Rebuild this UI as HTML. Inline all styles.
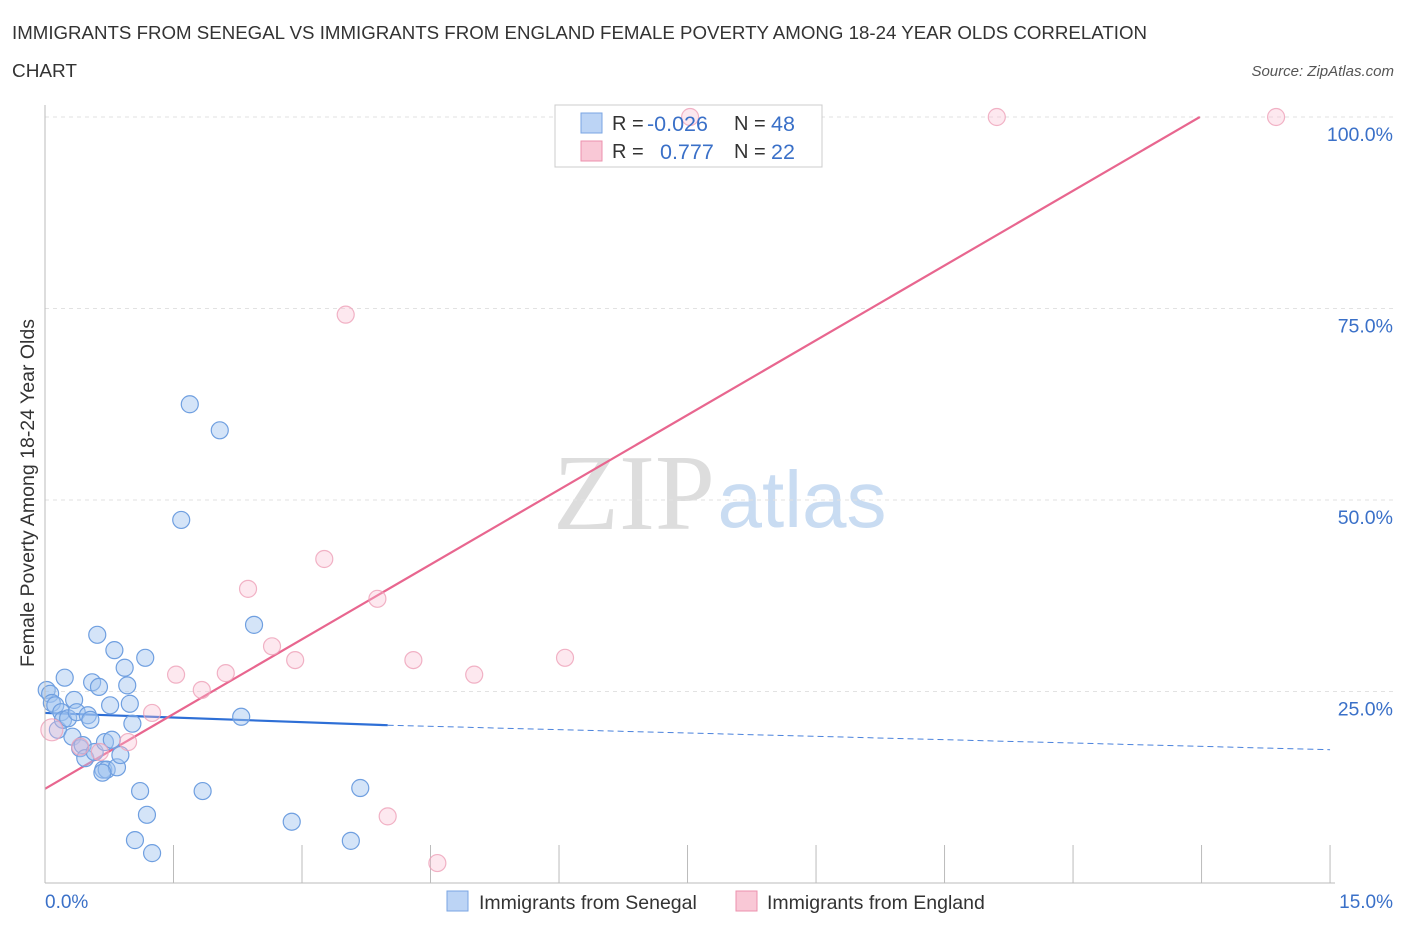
<!DOCTYPE html>
<html><head><meta charset="utf-8"><style>
body{margin:0;background:#fff;font-family:"Liberation Sans",sans-serif;}
svg{display:block}
</style></head><body>
<svg id="chart" width="1406" height="930" xmlns="http://www.w3.org/2000/svg">
<text x="12" y="39" font-size="18" fill="#333" textLength="1135" lengthAdjust="spacingAndGlyphs">IMMIGRANTS FROM SENEGAL VS IMMIGRANTS FROM ENGLAND FEMALE POVERTY AMONG 18-24 YEAR OLDS CORRELATION</text>
<text x="12" y="77" font-size="18" fill="#333" textLength="65" lengthAdjust="spacingAndGlyphs">CHART</text>
<text x="1394" y="76" font-size="15" font-style="italic" fill="#555" text-anchor="end">Source: ZipAtlas.com</text>
<text x="634" y="529" font-size="108" font-family="Liberation Serif,serif" fill="#ddd" text-anchor="middle">ZIP</text>
<text x="802" y="527" font-size="80" fill="#c9dcf2" text-anchor="middle">atlas</text>
<text transform="translate(34,493) rotate(-90)" font-size="19.5" fill="#333" text-anchor="middle">Female Poverty Among 18-24 Year Olds</text>
<g id="grid"></g><g id="ticks"></g><g id="lines"></g>
<g>
<rect x="555" y="105" width="267" height="62" fill="#fff" stroke="#ccc"/>
</g>
<g id="pts"></g>
<g>
<rect x="581" y="113" width="21" height="20" fill="#bcd4f5" stroke="#7aa5e3"/>
<rect x="581" y="141" width="21" height="20" fill="#f9c8d6" stroke="#ec91ad"/>
<text x="612" y="130" font-size="20" fill="#333">R = </text><text x="647" y="131" font-size="21.5" fill="#3a70c8">-0.026</text>
<text x="734" y="130" font-size="20" fill="#333">N = </text><text x="771" y="131" font-size="21.5" fill="#3a70c8">48</text>
<text x="612" y="158" font-size="20" fill="#333">R = </text><text x="660" y="159" font-size="21.5" fill="#3a70c8">0.777</text>
<text x="734" y="158" font-size="20" fill="#333">N = </text><text x="771" y="159" font-size="21.5" fill="#3a70c8">22</text>
</g>
<line x1="45" y1="105" x2="45" y2="883" stroke="#bbb"/>
<line x1="45" y1="883" x2="1335" y2="883" stroke="#bbb"/>
<text x="45" y="908" font-size="19" fill="#3a70c8">0.0%</text>
<text x="1393" y="908" font-size="19" fill="#3a70c8" text-anchor="end">15.0%</text>
<g>
<rect x="447" y="891" width="21" height="20" fill="#bcd4f5" stroke="#7aa5e3"/>
<text x="479" y="909" font-size="19.5" fill="#333">Immigrants from Senegal</text>
<rect x="736" y="891" width="21" height="20" fill="#f9c8d6" stroke="#ec91ad"/>
<text x="767" y="909" font-size="19.5" fill="#333">Immigrants from England</text>
</g>
</svg>
<script>
const blueX=[0.02,0.06,0.08,0.12,0.15,0.19,0.21,0.23,0.27,0.32,0.34,0.37,0.41,0.44,0.47,0.50,0.53,0.55,0.58,0.61,0.63,0.68,0.70,0.72,0.76,0.78,0.81,0.84,0.88,0.93,0.96,0.99,1.02,1.11,1.17,1.19,1.05,1.25,1.59,1.69,1.84,2.04,2.29,2.44,2.88,3.57,3.68,0.67];
const blueY=[25.2,24.7,23.5,23.2,20.0,22.3,21.3,26.8,21.5,19.1,23.9,22.3,17.6,18.0,16.3,21.9,21.3,26.2,17.1,32.4,25.6,14.8,18.4,14.8,23.2,18.7,30.4,15.1,16.7,28.1,25.8,23.4,20.8,12.0,29.4,8.9,5.6,3.9,47.4,62.5,12.0,59.1,21.7,33.7,8.0,5.5,12.4,14.4];
const pinkX=[0.08,0.41,0.64,0.97,1.25,1.53,1.83,2.11,2.37,2.65,2.92,3.26,3.51,3.88,4.00,4.30,4.58,5.01,6.07,7.53,11.11,14.37];
const pinkY=[20.0,17.8,17.1,18.4,22.2,27.2,25.2,27.4,38.4,30.9,29.1,42.3,74.2,37.1,8.7,29.1,2.6,27.2,29.4,100,100,100];
const yTicks=[25,50,75,100];
const yTickLabels=["25.0%","50.0%","75.0%","100.0%"];
const xTicks=[0,1.5,3,4.5,6,7.5,9,10.5,12,13.5,15];
const blueTrendX=[0,4.0,15];
const blueTrend=[22.2,20.6,17.4];
const pinkTrendX=[0,13.48];
const pinkTrend=[12.3,100];
const NS="http://www.w3.org/2000/svg";
const sx=v=>45+v*85.67, sy=v=>883-v*7.66;
function mk(tag,attrs,parent){const e=document.createElementNS(NS,tag);for(const k in attrs)e.setAttribute(k,attrs[k]);document.getElementById(parent).appendChild(e);return e;}
yTicks.forEach((t,i)=>{
 const l=mk('line',{x1:45,x2:1393,y1:sy(t),y2:sy(t),stroke:'#e2e2e2','stroke-dasharray':'4,4'},'grid');
 
 
 const tx=mk('text',{x:1393,y:sy(t)+24,'font-size':19.5,fill:'#3a70c8','text-anchor':'end'},'grid');
 tx.textContent=yTickLabels[i];
 
 
});
xTicks.forEach(t=>{
 const l=mk('line',{x1:sx(t),x2:sx(t),y1:845,y2:883,stroke:'#bbb'},'ticks');
 
 
});
blueX.forEach((x,i)=>{
 const c=mk('circle',{cx:sx(x),cy:sy(blueY[i]),r:8.5,fill:'rgba(160,195,240,0.45)',stroke:'#6f9fe0','stroke-width':1.2},'pts');
 
 
});
pinkX.forEach((x,i)=>{
 const c=mk('circle',{cx:sx(x),cy:sy(pinkY[i]),r:i==0?11:8.5,fill:'rgba(248,190,208,0.35)',stroke:'rgba(238,160,184,0.8)','stroke-width':1.2},'pts');
 
 
});
const b1=mk('line',{x1:sx(blueTrendX[0]),y1:sy(blueTrend[0]),x2:sx(blueTrendX[1]),y2:sy(blueTrend[1]),stroke:'#2e6fd6','stroke-width':2.2},'lines');


const b2=mk('line',{x1:sx(blueTrendX[1]),y1:sy(blueTrend[1]),x2:sx(blueTrendX[2]),y2:sy(blueTrend[2]),stroke:'#4a82dc','stroke-width':1,'stroke-dasharray':'6,4'},'lines');


const p1=mk('line',{x1:sx(pinkTrendX[0]),y1:sy(pinkTrend[0]),x2:sx(pinkTrendX[1]),y2:sy(pinkTrend[1]),stroke:'#e8668f','stroke-width':2.2},'lines');


</script>
</body></html>
